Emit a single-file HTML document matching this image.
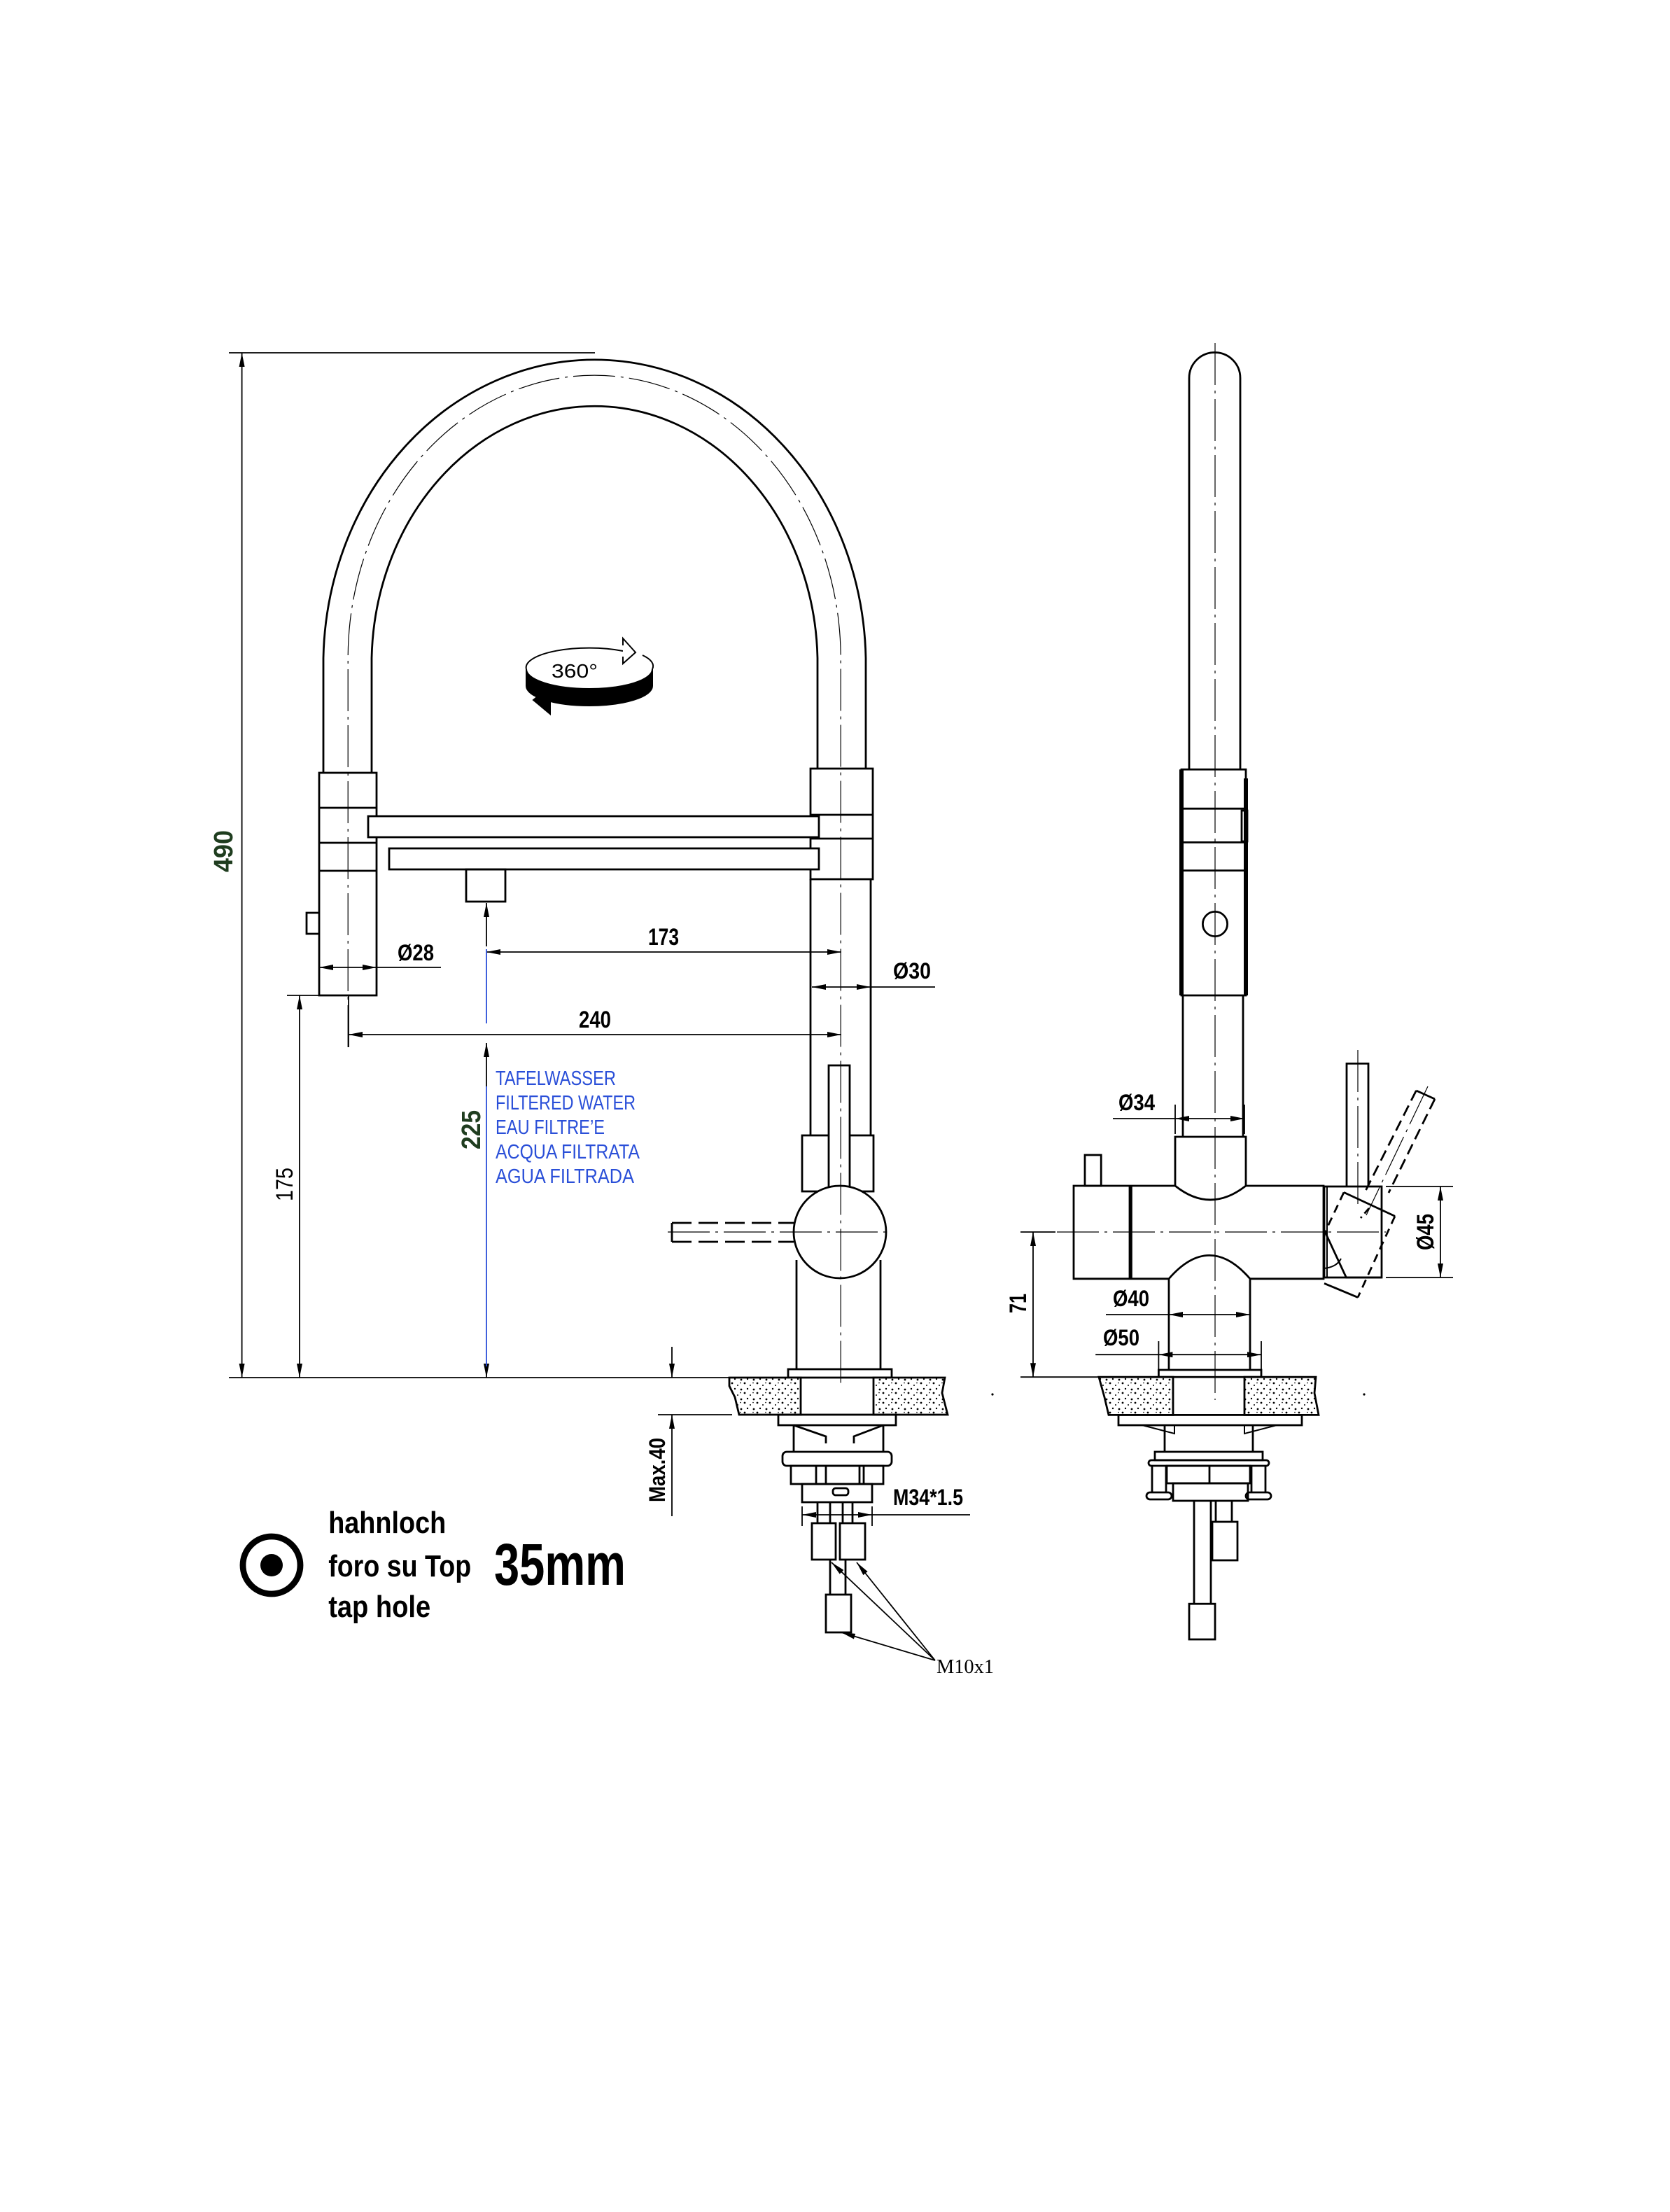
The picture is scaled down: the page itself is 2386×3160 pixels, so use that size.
<!DOCTYPE html>
<html><head><meta charset="utf-8"><style>
html,body{margin:0;padding:0;background:#fff;}
svg{display:block;}
text{font-family:"Liberation Sans",sans-serif;}
</style></head><body>
<svg width="2386" height="3160" viewBox="0 0 1193 1580" xmlns="http://www.w3.org/2000/svg">
<defs>
<marker id="ar" viewBox="0 0 10 4" refX="10" refY="2" markerWidth="10" markerHeight="4" markerUnits="userSpaceOnUse" orient="auto-start-reverse">
<path d="M0,0 L10,2 L0,4 Z" fill="#000"/></marker>
<pattern id="gr" width="9" height="7" patternUnits="userSpaceOnUse">
<rect width="9" height="7" fill="#fff"/>
<circle cx="1" cy="1" r="0.7" fill="#000"/><circle cx="5" cy="2.5" r="0.5" fill="#000"/>
<circle cx="3" cy="5" r="0.6" fill="#000"/><circle cx="7.5" cy="5.5" r="0.7" fill="#000"/>
<circle cx="7" cy="0.8" r="0.4" fill="#000"/>
</pattern>
</defs>
<rect width="1193" height="1580" fill="#fff"/>

<g fill="none" stroke="#000" stroke-width="1.4">
<!-- LEFT VIEW arch -->
<path d="M231 552 L231 470 A193.8 218 0 0 1 618.5 470 L618.5 549"/>
<path d="M265.5 552 L265.5 470 A159.3 184.5 0 0 1 584 470 L584 549"/>
<!-- left collar -->
<rect x="228" y="552" width="41" height="159"/>
<line x1="228" y1="577" x2="269" y2="577"/>
<line x1="228" y1="602" x2="269" y2="602"/>
<line x1="228" y1="622" x2="269" y2="622"/>
<path d="M228 652 L219 652 L219 667 L228 667"/>
<!-- right collar -->
<rect x="579" y="549" width="44.5" height="79"/>
<line x1="579" y1="582" x2="623.5" y2="582"/>
<line x1="579" y1="599" x2="623.5" y2="599"/>
<line x1="579" y1="628" x2="579" y2="811"/>
<line x1="622" y1="628" x2="622" y2="811"/>
<!-- bars -->
<rect x="263" y="583" width="322" height="15" fill="#fff"/>
<rect x="278" y="606" width="307" height="15" fill="#fff"/>
<rect x="333" y="621" width="28" height="23"/>
<!-- lower body -->
<rect x="573" y="811" width="51" height="40"/>
<rect x="592" y="761" width="15" height="90" fill="#fff"/>
<line x1="569" y1="900" x2="569" y2="978"/>
<line x1="629" y1="900" x2="629" y2="978"/>
<circle cx="600" cy="880" r="33" fill="#fff"/>
<rect x="563" y="978" width="74" height="6"/>
<!-- dashed lever -->
<line x1="480" y1="873.5" x2="480" y2="887"/>
<line x1="480" y1="873.5" x2="567" y2="873.5" stroke-dasharray="14 5"/>
<line x1="480" y1="887" x2="567" y2="887" stroke-dasharray="14 5"/>
<!-- countertop left -->
<path d="M521 984 L572 984 L572 1010.5 L528 1010.5 L525 998 L521 990 Z" fill="url(#gr)"/>
<path d="M624 984 L675 984 L673 995 L677 1010.5 L624 1010.5 Z" fill="url(#gr)"/>
<!-- under counter -->
<rect x="556" y="1010.5" width="84" height="7.5"/>
<path d="M567 1018 L567 1037 M631 1018 L631 1037 M567 1018 L590 1026 L590 1031 M631 1018 L610 1026 L610 1031"/>
<rect x="559" y="1037" width="78" height="10" rx="3"/>
<rect x="565" y="1047" width="66" height="13"/>
<path d="M583 1047 L583 1060 M590 1047 L590 1060 M614 1047 L614 1060 M617 1047 L617 1060"/>
<rect x="573" y="1060" width="50" height="13"/>
<rect x="595" y="1063" width="11" height="5" rx="2"/>
<path d="M584 1073 L584 1088 M593 1073 L593 1088 M602 1073 L602 1088 M609 1073 L609 1088"/>
<rect x="580" y="1088" width="17" height="26"/>
<rect x="600" y="1088" width="18" height="26"/>
<path d="M593 1114 L593 1139 M604 1114 L604 1139"/>
<rect x="590" y="1139" width="18" height="27"/>

<!-- RIGHT VIEW -->
<path d="M849.5 549 L849.5 270 A18.25 18.25 0 0 1 886 270 L886 549"/>
<rect x="844" y="549.6" width="46" height="161.4"/>
<line x1="844" y1="549.6" x2="844" y2="711" stroke-width="3"/>
<line x1="890" y1="556" x2="890" y2="711" stroke-width="3"/>
<line x1="844" y1="577.6" x2="890" y2="577.6"/>
<line x1="844" y1="601.7" x2="890" y2="601.7"/>
<line x1="844" y1="621.8" x2="890" y2="621.8"/>
<rect x="887" y="579" width="4" height="22"/>
<circle cx="868" cy="660" r="8.8"/>
<line x1="845" y1="711" x2="845" y2="812"/>
<line x1="888" y1="711" x2="888" y2="812"/>
<path d="M839.5 812 L839.5 847 Q864.5 867 890 847 L890 812 Z"/>
<path d="M839.5 847 L767 847 L767 913.4 L835 913.4 M893 913.4 L945.5 913.4 L945.5 847 L890 847"/>
<line x1="807.6" y1="847" x2="807.6" y2="913.4" stroke-width="2.6"/>
<rect x="775" y="825" width="11.6" height="22"/>
<path d="M835 978.5 L835 913.4 Q864 880 893 913.4 L893 978.5"/>
<rect x="827.7" y="978.5" width="73.3" height="5.1"/>
<path d="M785 983.6 L838 983.6 L838 1010.7 L792 1010.7 L789 998 Z" fill="url(#gr)"/>
<path d="M889 983.6 L940 983.6 L939 995 L942 1010.7 L889 1010.7 Z" fill="url(#gr)"/>
<rect x="799" y="1010.7" width="131" height="7.3"/>
<path d="M816 1018 L839 1018 L839 1024 Z M889 1018 L912 1018 L889 1024 Z" stroke-width="1"/>
<path d="M832 1018 L832 1037 M895 1018 L895 1037"/>
<rect x="825" y="1037" width="77" height="6"/>
<rect x="820.5" y="1043" width="86" height="4" rx="2"/>
<path d="M823 1047 L823 1066 M833 1047 L833 1066 M894 1047 L894 1066 M904 1047 L904 1066"/>
<rect x="819" y="1066" width="18" height="5" rx="2.5"/>
<rect x="890" y="1066" width="18" height="5" rx="2.5"/>
<rect x="833.5" y="1047" width="59.5" height="12.5"/>
<line x1="864" y1="1047" x2="864" y2="1059.5"/>
<rect x="838" y="1059.5" width="53.5" height="12.5"/>
<path d="M853 1072 L853 1145.6 M865 1072 L865 1145.6 M868.5 1072 L868.5 1087 M880 1072 L880 1087"/>
<rect x="849.5" y="1145.6" width="18.5" height="25.4"/>
<rect x="866" y="1087" width="18" height="27.5"/>
<!-- right lever -->
<path d="M962 847.5 L962 759.7 L977.5 759.7 L977.5 847.5"/>
<rect x="946" y="847.5" width="41" height="65"/>
<line x1="948" y1="847.5" x2="948" y2="912.5" stroke-width="1"/>
<path d="M996.5 868.7 L960 851.7"/>
<path d="M946.6 880 L961.7 912.5 L987 912.5"/>
<path d="M946 916.7 L970 926.7"/>
<path d="M946 906 Q955 905 958 899" stroke-width="1"/>
<path d="M960 851.7 L946.6 880" stroke-dasharray="6 4"/>
<path d="M996.5 868.7 L970 926.7" stroke-dasharray="6 4"/>
<path d="M1011.7 779 L1025 785"/>
<path d="M1011.7 779 L975.8 850" stroke-dasharray="8 4"/>
<path d="M1025 785 L992 852" stroke-dasharray="8 4"/>
<path d="M978 863 L972 870" stroke-dasharray="5 3"/>
</g>

<!-- centerlines -->
<g fill="none" stroke="#000" stroke-width="0.6" stroke-dasharray="30 4 2 4">
<path d="M248.6 748 L248.6 470 A176 202 0 0 1 600.6 470 L600.6 990"/>
<line x1="868" y1="245" x2="868" y2="1000"/>
<line x1="755" y1="880" x2="990" y2="880"/>
<line x1="970" y1="750" x2="970" y2="860"/>
<line x1="477" y1="880" x2="634" y2="880"/>
<line x1="1020" y1="776" x2="976" y2="868"/>
</g>

<!-- dimensions -->
<g fill="none" stroke="#000" stroke-width="0.9">
<line x1="163.5" y1="252" x2="425" y2="252"/>
<line x1="172.8" y1="252" x2="172.8" y2="984" marker-start="url(#ar)" marker-end="url(#ar)"/>
<line x1="163.5" y1="984" x2="521" y2="984"/>
<line x1="205" y1="711" x2="228" y2="711"/>
<line x1="214" y1="711" x2="214" y2="984" marker-start="url(#ar)" marker-end="url(#ar)"/>
<line x1="347.5" y1="680" x2="601" y2="680" marker-start="url(#ar)" marker-end="url(#ar)"/>
<line x1="347.5" y1="676" x2="347.5" y2="645" marker-end="url(#ar)"/>
<line x1="347.5" y1="776" x2="347.5" y2="745" marker-end="url(#ar)"/>
<line x1="347.5" y1="975" x2="347.5" y2="984" marker-end="url(#ar)"/>
<line x1="228" y1="691" x2="269" y2="691" marker-start="url(#ar)" marker-end="url(#ar)"/>
<line x1="269" y1="691" x2="315" y2="691"/>
<line x1="580" y1="705" x2="622" y2="705" marker-start="url(#ar)" marker-end="url(#ar)"/>
<line x1="622" y1="705" x2="668" y2="705"/>
<line x1="249" y1="711" x2="249" y2="748"/>
<line x1="249" y1="739" x2="601" y2="739" marker-start="url(#ar)" marker-end="url(#ar)"/>
<line x1="480" y1="962" x2="480" y2="984" marker-end="url(#ar)"/>
<line x1="470" y1="1010.5" x2="523" y2="1010.5"/>
<line x1="480" y1="1083" x2="480" y2="1010.5" marker-end="url(#ar)"/>
<line x1="573" y1="1076" x2="573" y2="1090"/>
<line x1="623" y1="1076" x2="623" y2="1090"/>
<line x1="573" y1="1082" x2="623" y2="1082" marker-start="url(#ar)" marker-end="url(#ar)"/>
<line x1="623" y1="1082" x2="693" y2="1082"/>
<line x1="668" y1="1186" x2="594" y2="1116" marker-end="url(#ar)"/>
<line x1="668" y1="1186" x2="612" y2="1116" marker-end="url(#ar)"/>
<line x1="668" y1="1186" x2="601" y2="1166" marker-end="url(#ar)"/>
<!-- right view dims -->
<line x1="839.5" y1="789" x2="839.5" y2="810"/>
<line x1="889" y1="789" x2="889" y2="810"/>
<line x1="795" y1="799" x2="839.5" y2="799"/>
<line x1="839.5" y1="799" x2="889" y2="799" marker-start="url(#ar)" marker-end="url(#ar)"/>
<line x1="790" y1="939" x2="835" y2="939"/>
<line x1="835" y1="939" x2="893" y2="939" marker-start="url(#ar)" marker-end="url(#ar)"/>
<line x1="827.7" y1="958" x2="827.7" y2="978"/>
<line x1="901" y1="958" x2="901" y2="978"/>
<line x1="782.6" y1="967.6" x2="827.7" y2="967.6"/>
<line x1="827.7" y1="967.6" x2="901" y2="967.6" marker-start="url(#ar)" marker-end="url(#ar)"/>
<line x1="729" y1="880" x2="754" y2="880"/>
<line x1="729" y1="983.6" x2="785" y2="983.6"/>
<line x1="738" y1="880" x2="738" y2="983.6" marker-start="url(#ar)" marker-end="url(#ar)"/>
<line x1="990" y1="847.5" x2="1038" y2="847.5"/>
<line x1="990" y1="912.5" x2="1038" y2="912.5"/>
<line x1="1029" y1="847.5" x2="1029" y2="912.5" marker-start="url(#ar)" marker-end="url(#ar)"/>
</g>
<!-- blue line -->
<g stroke="#2a4fd8" stroke-width="0.9">
<line x1="347.5" y1="678" x2="347.5" y2="731"/>
<line x1="347.5" y1="776" x2="347.5" y2="976"/>
</g>
<circle cx="709" cy="996" r="0.8" fill="#000"/>
<circle cx="974.5" cy="996" r="0.8" fill="#000"/>

<!-- 360 icon -->
<g stroke="#000" stroke-width="1">
<path d="M376 478 A45 14 0 0 0 466 478 L466 490 A45 14 0 0 1 376 490 Z" fill="#000"/>
<path d="M376 478 A45 14 0 0 1 445 465" fill="none"/>
<path d="M445 461 L445 456 L454 466 L445 474 L445 469" fill="#fff"/>
<path d="M459 468 A45 14 0 0 1 466 478" fill="none"/>
<path d="M393 497 L393 490 L381 500 L393 510 L393 503 Z" fill="#000"/>
</g>
<text x="394" y="484" font-size="14" textLength="33" lengthAdjust="spacingAndGlyphs">360°</text>

<!-- dimension texts -->
<g font-weight="bold" fill="#000">
<text x="474" y="675" font-size="17" text-anchor="middle" textLength="22" lengthAdjust="spacingAndGlyphs">173</text>
<text x="425" y="734" font-size="17" text-anchor="middle" textLength="23" lengthAdjust="spacingAndGlyphs">240</text>
<text x="284" y="686" font-size="16" textLength="26" lengthAdjust="spacingAndGlyphs">Ø28</text>
<text x="638" y="699" font-size="16" textLength="27" lengthAdjust="spacingAndGlyphs">Ø30</text>
<text x="799" y="793" font-size="16" textLength="26" lengthAdjust="spacingAndGlyphs">Ø34</text>
<text x="795" y="933" font-size="16" textLength="26" lengthAdjust="spacingAndGlyphs">Ø40</text>
<text x="788" y="961" font-size="16" textLength="26" lengthAdjust="spacingAndGlyphs">Ø50</text>
<text x="638" y="1075" font-size="16" textLength="50" lengthAdjust="spacingAndGlyphs">M34*1.5</text>
<text transform="translate(475,1050) rotate(-90)" font-size="16" text-anchor="middle" textLength="46" lengthAdjust="spacingAndGlyphs">Max.40</text>
<text transform="translate(209,846) rotate(-90)" font-size="17" font-weight="normal" text-anchor="middle" textLength="24" lengthAdjust="spacingAndGlyphs">175</text>
<text transform="translate(733,931) rotate(-90)" font-size="17" text-anchor="middle" textLength="14" lengthAdjust="spacingAndGlyphs">71</text>
<text transform="translate(1024,880) rotate(-90)" font-size="17" text-anchor="middle" textLength="26" lengthAdjust="spacingAndGlyphs">Ø45</text>
<text transform="translate(166,608) rotate(-90)" font-size="19" fill="#1f3d1f" text-anchor="middle" textLength="30" lengthAdjust="spacingAndGlyphs">490</text>
<text transform="translate(343,807) rotate(-90)" font-size="19" fill="#1f3d1f" text-anchor="middle" textLength="28" lengthAdjust="spacingAndGlyphs">225</text>
</g>
<g fill="#2a4fd8" font-size="14.5">
<text x="354" y="775" textLength="86" lengthAdjust="spacingAndGlyphs">TAFELWASSER</text>
<text x="354" y="792.5" textLength="100" lengthAdjust="spacingAndGlyphs">FILTERED WATER</text>
<text x="354" y="810" textLength="78" lengthAdjust="spacingAndGlyphs">EAU FILTRE’E</text>
<text x="354" y="827.5" textLength="103" lengthAdjust="spacingAndGlyphs">ACQUA FILTRATA</text>
<text x="354" y="845" textLength="99" lengthAdjust="spacingAndGlyphs">AGUA FILTRADA</text>
</g>
<text x="669" y="1195" font-size="14" textLength="41" lengthAdjust="spacingAndGlyphs" style="font-family:'Liberation Serif',serif">M10x1</text>

<!-- tap hole legend -->
<circle cx="194" cy="1118" r="20.5" fill="none" stroke="#000" stroke-width="4.4"/>
<circle cx="194" cy="1118" r="8" fill="#000"/>
<g fill="#000" font-weight="bold">
<text x="234.6" y="1095" font-size="22" textLength="84" lengthAdjust="spacingAndGlyphs">hahnloch</text>
<text x="234.6" y="1126" font-size="22" textLength="102" lengthAdjust="spacingAndGlyphs">foro su Top</text>
<text x="234.6" y="1155" font-size="22" textLength="73" lengthAdjust="spacingAndGlyphs">tap hole</text>
<text x="353" y="1132" font-size="42" textLength="94" lengthAdjust="spacingAndGlyphs">35mm</text>
</g>
</svg>
</body></html>
